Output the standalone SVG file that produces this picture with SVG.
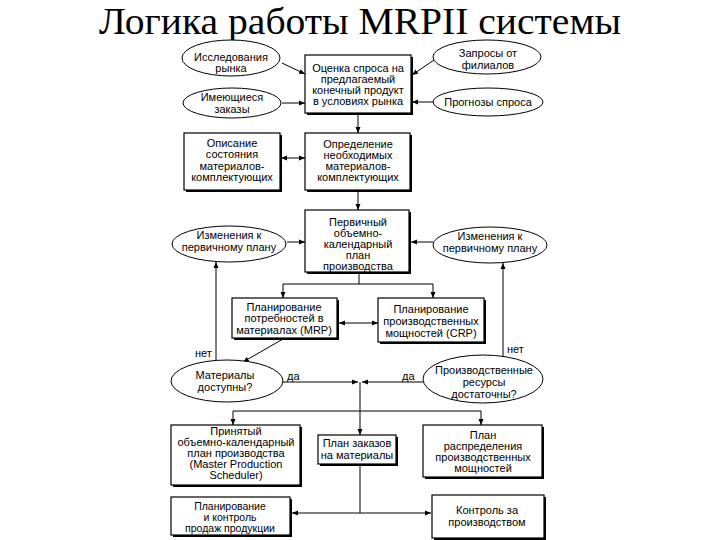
<svg xmlns="http://www.w3.org/2000/svg" width="720" height="540" viewBox="0 0 720 540">
<style>
.t{font-family:"Liberation Sans",Arial,sans-serif;font-size:11px;fill:#000;text-anchor:middle}
.s{font-size:10.5px}
.lb{font-family:"Liberation Sans",Arial,sans-serif;font-size:11px;fill:#000}
.title{font-family:"Liberation Serif","Times New Roman",serif;font-size:37px;fill:#000;text-anchor:middle}
.box{fill:#fff;stroke:#000;stroke-width:1.2}
.sh{fill:#000}
.el{fill:#fff;stroke:#000;stroke-width:1}
.c{fill:none;stroke:#000;stroke-width:1}
</style>
<defs>
<marker id="ah" viewBox="0 0 6 6" refX="6" refY="3" markerWidth="6" markerHeight="6" markerUnits="userSpaceOnUse" orient="auto">
<path d="M0,0.5 L6,3 L0,5.5 z" fill="#000"/>
</marker>
<marker id="as" viewBox="0 0 6 6" refX="0" refY="3" markerWidth="6" markerHeight="6" markerUnits="userSpaceOnUse" orient="auto">
<path d="M6,0.5 L0,3 L6,5.5 z" fill="#000"/>
</marker>
</defs>
<rect width="720" height="540" fill="#fff"/>
<text class="title" x="360" y="34" textLength="522" lengthAdjust="spacingAndGlyphs">Логика работы MRPII системы</text>

<g id="connectors">
<line class="c" x1="282" y1="63" x2="305" y2="74" marker-end="url(#ah)"/>
<line class="c" x1="282" y1="103" x2="305" y2="103" marker-end="url(#ah)"/>
<line class="c" x1="434" y1="60" x2="412" y2="75" marker-end="url(#ah)"/>
<line class="c" x1="433" y1="102" x2="412" y2="102" marker-end="url(#ah)"/>
<line class="c" x1="358" y1="114" x2="358" y2="133" marker-end="url(#ah)"/>
<line class="c" x1="281" y1="158" x2="305" y2="158" marker-start="url(#as)" marker-end="url(#ah)"/>
<line class="c" x1="358" y1="191" x2="358" y2="210" marker-end="url(#ah)"/>
<line class="c" x1="287" y1="242" x2="305" y2="242" marker-end="url(#ah)"/>
<line class="c" x1="433" y1="242" x2="411" y2="242" marker-end="url(#ah)"/>
<polyline class="c" points="359,273 359,284 283,284 283,298" marker-end="url(#ah)"/>
<polyline class="c" points="359,284 433,284 433,298" marker-end="url(#ah)"/>
<line class="c" x1="339" y1="323" x2="378" y2="323" marker-start="url(#as)" marker-end="url(#ah)"/>
<line class="c" x1="283" y1="339" x2="243" y2="362" marker-end="url(#ah)"/>
<line class="c" x1="216" y1="360" x2="216" y2="262" marker-end="url(#ah)"/>
<line class="c" x1="503" y1="356" x2="503" y2="263" marker-end="url(#ah)"/>
<line class="c" x1="283" y1="382" x2="358" y2="382" marker-end="url(#ah)"/>
<line class="c" x1="423" y1="382" x2="362" y2="382" marker-end="url(#ah)"/>
<line class="c" x1="360" y1="382" x2="360" y2="435" marker-end="url(#ah)"/>
<polyline class="c" points="233,425 233,411 481,411 481,425" marker-start="url(#as)" marker-end="url(#ah)"/>
<line class="c" x1="360" y1="465" x2="360" y2="513"/>
<line class="c" x1="292" y1="513" x2="431" y2="513" marker-start="url(#as)" marker-end="url(#ah)"/>
</g>

<g id="n-issled">
<ellipse class="el" cx="231" cy="58" rx="49" ry="18"/>
<text class="t" x="231" y="61">Исследования</text>
<text class="t" x="231" y="72">рынка</text>
</g>
<g id="n-zakazy">
<ellipse class="el" cx="232" cy="103" rx="49" ry="15"/>
<text class="t" x="232" y="101">Имеющиеся</text>
<text class="t" x="232" y="113">заказы</text>
</g>
<g id="n-ocenka">
<rect class="sh" x="307" y="57" width="106" height="58"/>
<rect class="box" x="305" y="55" width="106" height="58"/>
<text class="t" x="358" y="72">Оценка спроса на</text>
<text class="t" x="358" y="83">предлагаемый</text>
<text class="t" x="358" y="94">конечный продукт</text>
<text class="t" x="358" y="105">в условиях рынка</text>
</g>
<g id="n-zaprosy">
<ellipse class="el" cx="487" cy="57" rx="54" ry="17"/>
<text class="t" x="488" y="57">Запросы от</text>
<text class="t" x="488" y="69">филиалов</text>
</g>
<g id="n-prognozy">
<ellipse class="el" cx="488" cy="102" rx="55" ry="14"/>
<text class="t" x="488" y="106">Прогнозы спроса</text>
</g>
<g id="n-opisanie">
<rect class="sh" x="186" y="135" width="96" height="57"/>
<rect class="box" x="184" y="133" width="96" height="57"/>
<text class="t" x="232" y="147">Описание</text>
<text class="t" x="232" y="158">состояния</text>
<text class="t" x="232" y="170">материалов-</text>
<text class="t" x="232" y="181">комплектующих</text>
</g>
<g id="n-opredelenie">
<rect class="sh" x="307" y="135" width="105" height="57"/>
<rect class="box" x="305" y="133" width="105" height="57"/>
<text class="t" x="358" y="148">Определение</text>
<text class="t" x="358" y="159">необходимых</text>
<text class="t" x="358" y="170">материалов-</text>
<text class="t" x="358" y="181">комплектующих</text>
</g>
<g id="n-izm-left">
<ellipse class="el" cx="229" cy="244" rx="57" ry="18"/>
<text class="t" x="229" y="239">Изменения к</text>
<text class="t" x="229" y="251">первичному плану</text>
</g>
<g id="n-pervichny">
<rect class="sh" x="307" y="212" width="104" height="62"/>
<rect class="box" x="305" y="210" width="104" height="62"/>
<text class="t" x="358" y="226">Первичный</text>
<text class="t" x="358" y="237">объемно-</text>
<text class="t" x="358" y="248">календарный</text>
<text class="t" x="358" y="259">план</text>
<text class="t" x="358" y="270">производства</text>
</g>
<g id="n-izm-right">
<ellipse class="el" cx="490" cy="245" rx="57" ry="18"/>
<text class="t" x="490" y="240">Изменения к</text>
<text class="t" x="490" y="252">первичному плану</text>
</g>
<g id="n-mrp">
<rect class="sh" x="234" y="300" width="105" height="40"/>
<rect class="box" x="232" y="298" width="105" height="40"/>
<text class="t" x="284" y="311">Планирование</text>
<text class="t" x="284" y="322">потребностей в</text>
<text class="t" x="284" y="334">материалах (MRP)</text>
</g>
<g id="n-crp">
<rect class="sh" x="380" y="300" width="106" height="44"/>
<rect class="box" x="378" y="298" width="106" height="44"/>
<text class="t" x="431" y="313">Планирование</text>
<text class="t" x="431" y="325">производственных</text>
<text class="t" x="431" y="337">мощностей (CRP)</text>
</g>
<g id="labels">
<text class="lb" x="195" y="357">нет</text>
<text class="lb" x="507" y="353">нет</text>
<text class="lb" x="287" y="380">да</text>
<text class="lb" x="402" y="380">да</text>
</g>
<g id="n-materialy">
<ellipse class="el" cx="227" cy="381" rx="56" ry="21"/>
<text class="t" x="225" y="379">Материалы</text>
<text class="t" x="225" y="391">доступны?</text>
</g>
<g id="n-resursy">
<ellipse class="el" cx="483" cy="379" rx="60" ry="24"/>
<text class="t" x="484" y="374">Производственные</text>
<text class="t" x="484" y="386">ресурсы</text>
<text class="t" x="484" y="398">достаточны?</text>
</g>
<g id="n-prinyaty">
<rect class="sh" x="173" y="427" width="129" height="60"/>
<rect class="box" x="171" y="425" width="129" height="60"/>
<text class="t" x="236" y="435">Принятый</text>
<text class="t" x="236" y="446">объемно-календарный</text>
<text class="t" x="236" y="457">план производства</text>
<text class="t" x="236" y="468">(Master Production</text>
<text class="t" x="236" y="479">Scheduler)</text>
</g>
<g id="n-plan-zakazov">
<rect class="sh" x="320" y="437" width="78" height="29"/>
<rect class="box" x="318" y="435" width="78" height="29"/>
<text class="t" x="357" y="447">План заказов</text>
<text class="t" x="357" y="459">на материалы</text>
</g>
<g id="n-plan-raspr">
<rect class="sh" x="425" y="427" width="119" height="52"/>
<rect class="box" x="423" y="425" width="119" height="52"/>
<text class="t" x="483" y="439">План</text>
<text class="t" x="483" y="450">распределения</text>
<text class="t" x="483" y="461">производственных</text>
<text class="t" x="483" y="472">мощностей</text>
</g>
<g id="n-prodazhi">
<rect class="sh" x="173" y="499" width="119" height="38"/>
<rect class="box" x="171" y="497" width="119" height="38"/>
<text class="t s" x="230" y="510">Планирование</text>
<text class="t s" x="230" y="521">и контроль</text>
<text class="t s" x="230" y="532">продаж продукции</text>
</g>
<g id="n-kontrol">
<rect class="sh" x="434" y="497" width="112" height="43"/>
<rect class="box" x="432" y="495" width="112" height="43"/>
<text class="t" x="487" y="514">Контроль за</text>
<text class="t" x="487" y="526">производством</text>
</g>
</svg>
